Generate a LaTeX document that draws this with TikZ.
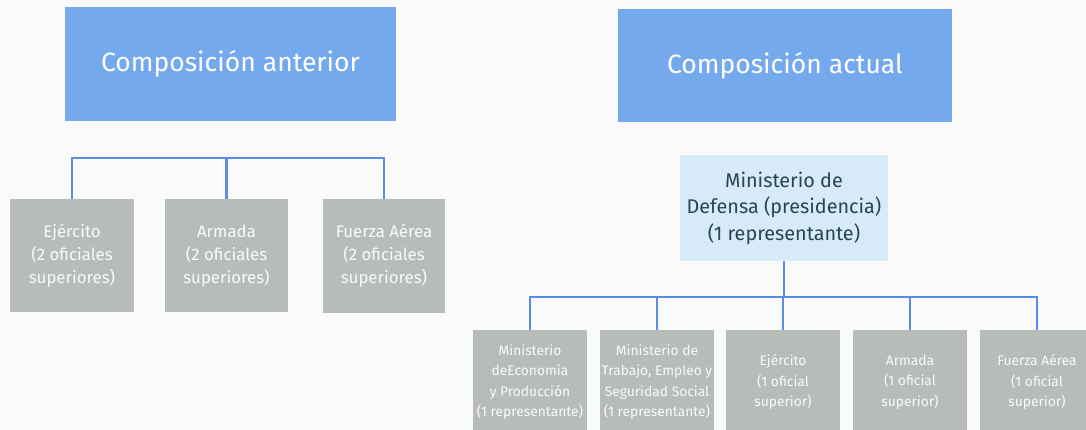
\documentclass[tikz,border=0pt]{standalone}
\usepackage{fontspec}
\setmainfont{Fira Sans}
\definecolor{hdblue}{RGB}{116,169,238}
\definecolor{presblue}{RGB}{214,234,247}
\definecolor{boxgrey}{RGB}{182,189,185}
\definecolor{busblue}{RGB}{88,140,232}
\definecolor{prestext}{RGB}{40,70,78}

\begin{document}
\begin{tikzpicture}[x=1pt,y=-1pt,
  tbox/.style={fill=hdblue,text=white,inner sep=0pt,
     font=\fontsize{26.5}{30}\selectfont},
  gbox/.style={fill=boxgrey,text=white!92!boxgrey,inner sep=0pt,align=center,
     font=\fontsize{16.8}{23}\selectfont},
  pbox/.style={fill=presblue,text=prestext,inner sep=0pt,align=center,
     minimum width=208pt,minimum height=106pt,
     font=\fontsize{19.8}{26.5}\selectfont},
  sbox/.style={fill=boxgrey,text=white!92!boxgrey,inner sep=0pt,align=center,
     minimum width=114pt,minimum height=104pt,
     font=\fontsize{13.8}{20.3}\selectfont},
  bus/.style={draw=busblue,line width=2.6pt}]
 \clip (0,0) rectangle (1086,430);
 \fill[white!98!black] (0,0) rectangle (1086,430);

 \node[tbox,minimum width=331pt,minimum height=114pt] (ant) at (230.5,64)
      {Composición anterior};
 \node[gbox,minimum width=124pt,minimum height=113pt] (ej) at (72,255.5)
      {Ejército\\(2 oficiales\\superiores)};
 \node[gbox,minimum width=123pt,minimum height=113pt] (ar) at (226.5,255.5)
      {Armada\\(2 oficiales\\superiores)};
 \node[gbox,minimum width=122pt,minimum height=113pt] (fa) at (384,256)
      {Fuerza Aérea\\(2 oficiales\\superiores)};
 \coordinate (busL) at (226.5,158);
 \draw[bus] (ej.north) |- (busL) -| (fa.north);
 \draw[bus] (ar.north) -- (busL);

 \node[tbox,minimum width=334pt,minimum height=113pt] (act) at (785,65.5)
      {Composición actual};
 \node[pbox] (def) at (784,208)
      {Ministerio de\\Defensa (presidencia)\\(1 representante)};
 \node[sbox] (eco) at (530,382)
      {Ministerio\\deEconomía\\y Producción\\(1 representante)};
 \node[sbox] (tra) at (657,382)
      {Ministerio de\\Trabajo, Empleo y\\Seguridad Social\\(1 representante)};
 \node[sbox] (ej2) at (783,382) {Ejército\\(1 oficial\\superior)};
 \node[sbox] (ar2) at (910,382) {Armada\\(1 oficial\\superior)};
 \node[sbox] (fa2) at (1037,382) {Fuerza Aérea\\(1 oficial\\superior)};
 \coordinate (busR) at (784,297);
 \draw[bus] (def.south) -- (busR);
 \draw[bus] (eco.north) |- (busR) -| (fa2.north);
 \foreach \n in {tra,ej2,ar2}
   \draw[bus] (\n.north) -- (\n.north |- busR);
\end{tikzpicture}
\end{document}
